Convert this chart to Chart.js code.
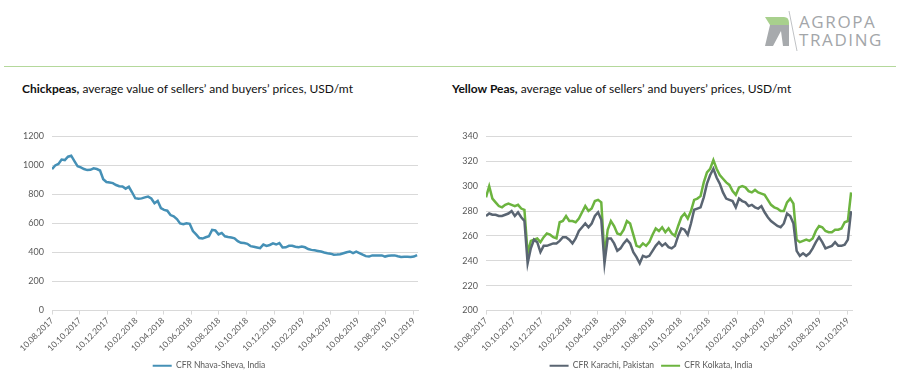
<!DOCTYPE html>
<html>
<head>
<meta charset="utf-8">
<script src="https://cdn.jsdelivr.net/npm/chart.js@4.4.0/dist/chart.umd.min.js"></script>
<style>
  body { margin: 0; width: 900px; height: 374px; background: #fff; position: relative; overflow: hidden; font-family: Lato, sans-serif; }
  .rule { position: absolute; left: 4px; top: 66px; width: 892px; height: 0; border-top: 1.5px solid #b4d89b; }
  .title { position: absolute; top: 81px; font-size: 12px; color: #111; white-space: nowrap; }
  .title b { font-weight: 700; }
  .box { position: absolute; top: 123px; width: 450px; height: 257px; }
  .logo { position: absolute; left: 762px; top: 6px; width: 130px; height: 48px; }
  .logo .t { position: absolute; left: 37px; font-size: 17px; color: #a3a6a9; letter-spacing: 1.6px; font-family: "Open Sans", sans-serif; }
</style>
</head>
<body>
<div class="logo">
  <svg width="36" height="48" style="position:absolute;left:0;top:0">
    <path d="M3 11 L22 11 Q27 11 27 17 L27 19 L8 19 Z" fill="#a8d08d"/>
    <path d="M8 19 L27 19 L27 40 L21 40 L19 25 L11 40 L3 40 Z" fill="#a7aaad"/>
    <line x1="27" y1="5" x2="35" y2="45" stroke="#b0b3b6" stroke-width="0.8"/>
  </svg>
  <div class="t" style="top:4px">AGROPA</div>
  <div class="t" style="top:22px">TRADING</div>
</div>
<div class="rule"></div>
<div class="title" style="left:22px"><b>Chickpeas,</b> average value of sellers’ and buyers’ prices, USD/mt</div>
<div class="title" style="left:452px"><b>Yellow Peas,</b> average value of sellers’ and buyers’ prices, USD/mt</div>
<div class="box" style="left:0"><canvas id="chickChart"></canvas></div>
<div class="box" style="left:450px"><canvas id="peasChart"></canvas></div>

<script>
// weekly observations
const weeks = [
  "2017-08-10","2017-08-17","2017-08-24","2017-08-31","2017-09-07","2017-09-14","2017-09-21","2017-09-28","2017-10-05","2017-10-12",
  "2017-10-19","2017-10-26","2017-11-02","2017-11-09","2017-11-16","2017-11-23","2017-11-30","2017-12-07","2017-12-14","2017-12-21",
  "2017-12-28","2018-01-04","2018-01-11","2018-01-18","2018-01-25","2018-02-01","2018-02-08","2018-02-15","2018-02-22","2018-03-01",
  "2018-03-08","2018-03-15","2018-03-22","2018-03-29","2018-04-05","2018-04-12","2018-04-19","2018-04-26","2018-05-03","2018-05-10",
  "2018-05-17","2018-05-24","2018-05-31","2018-06-07","2018-06-14","2018-06-21","2018-06-28","2018-07-05","2018-07-12","2018-07-19",
  "2018-07-26","2018-08-02","2018-08-09","2018-08-16","2018-08-23","2018-08-30","2018-09-06","2018-09-13","2018-09-20","2018-09-27",
  "2018-10-04","2018-10-11","2018-10-18","2018-10-25","2018-11-01","2018-11-08","2018-11-15","2018-11-22","2018-11-29","2018-12-06",
  "2018-12-13","2018-12-20","2018-12-27","2019-01-03","2019-01-10","2019-01-17","2019-01-24","2019-01-31","2019-02-07","2019-02-14",
  "2019-02-21","2019-02-28","2019-03-07","2019-03-14","2019-03-21","2019-03-28","2019-04-04","2019-04-11","2019-04-18","2019-04-25",
  "2019-05-02","2019-05-09","2019-05-16","2019-05-23","2019-05-30","2019-06-06","2019-06-13","2019-06-20","2019-06-27","2019-07-04",
  "2019-07-11","2019-07-18","2019-07-25","2019-08-01","2019-08-08","2019-08-15","2019-08-22","2019-08-29","2019-09-05","2019-09-12",
  "2019-09-19","2019-09-26","2019-10-03","2019-10-10","2019-10-17"
];

// CFR Nhava-Sheva, India
const chickpeas = [
  975,1000,1010,1040,1037,1060,1067,1030,994,987,
  975,968,970,980,975,965,905,886,882,878,
  865,857,855,840,853,815,774,770,773,780,
  785,772,740,755,706,694,688,658,650,630,
  600,595,602,598,548,525,500,496,505,512,
  556,552,525,535,512,507,503,498,478,467,
  465,460,444,440,435,430,455,446,452,463,
  455,465,435,436,446,447,440,437,441,436,
  424,418,415,411,407,400,395,392,385,386,
  388,395,402,407,396,406,396,385,375,372,
  380,380,380,380,372,378,380,380,374,369,
  370,370,369,372,382
];

// CFR Karachi, Pakistan
const karachi = [
  276,278,277,277,276,276,277,278,280,276,
  279,275,272,238,250,257,255,247,252,252,
  253,254,254,256,259,259,257,254,258,264,
  267,270,267,270,276,279,273,238,258,258,
  254,248,250,254,257,254,247,243,238,244,
  243,244,248,252,255,252,254,251,250,252,
  260,266,265,261,270,281,282,283,291,302,
  309,314,307,302,295,290,289,288,283,290,
  288,287,284,285,283,282,284,279,275,272,
  270,268,267,270,278,276,270,248,244,246,
  244,246,250,255,259,255,250,251,252,255,
  252,252,253,257,280
];

// CFR Kolkata, India
const kolkata = [
  291,300,290,287,284,283,285,286,285,284,
  285,282,281,246,256,257,258,255,259,262,
  261,259,258,271,272,276,272,272,271,274,
  279,284,280,282,288,289,287,244,265,272,
  268,262,261,265,272,270,261,252,251,254,
  252,255,261,266,264,267,263,266,262,260,
  268,275,278,274,280,289,290,292,303,311,
  314,321,314,309,306,303,301,296,293,299,
  300,299,296,295,297,295,294,293,289,285,
  283,282,280,280,287,290,286,257,255,256,
  257,256,258,264,268,267,264,263,263,265,
  265,266,271,272,295
];

const dateTicks = [
  "10.08.2017","10.10.2017","10.12.2017","10.02.2018","10.04.2018","10.06.2018","10.08.2018",
  "10.10.2018","10.12.2018","10.02.2019","10.04.2019","10.06.2019","10.08.2019","10.10.2019"
];
const chickTicks = [0, 200, 400, 600, 800, 1000, 1200];
const peasTicks = [200, 220, 240, 260, 280, 300, 320, 340];

// days since epoch
function isoDay(s) {
  const p = s.split("-");
  return Date.UTC(+p[0], +p[1] - 1, +p[2]) / 86400000;
}
function tickDay(s) {
  const p = s.split(".");
  return Date.UTC(+p[2], +p[1] - 1, +p[0]) / 86400000;
}
const xMin = isoDay(weeks[0]);
const xMax = isoDay("2019-10-19");

function series(values) {
  return values.map((v, i) => ({ x: isoDay(weeks[i]), y: v }));
}

const labelColor = "#595959";
const gridColor = "#d9d9d9";

function makeOptions(yTicks, axisWidth, rightPad) {
  return {
    responsive: true,
    maintainAspectRatio: false,
    animation: false,
    layout: { padding: { top: 8, right: rightPad, bottom: 0, left: 0 } },
    elements: { point: { radius: 0 }, line: { tension: 0 } },
    scales: {
      x: {
        type: "linear",
        min: xMin,
        max: xMax,
        afterBuildTicks: (s) => { s.ticks = dateTicks.map((t) => ({ value: tickDay(t) })); },
        ticks: {
          minRotation: 45,
          maxRotation: 45,
          autoSkip: false,
          padding: 1,
          color: labelColor,
          font: { family: "Lato", size: 8.5 },
          callback: (v, i) => dateTicks[i],
        },
        grid: { drawOnChartArea: false, drawTicks: true, tickLength: 4, color: gridColor },
        border: { display: true, color: gridColor },
      },
      y: {
        min: yTicks[0],
        max: yTicks[yTicks.length - 1],
        afterBuildTicks: (s) => { s.ticks = yTicks.map((v) => ({ value: v })); },
        afterFit: (s) => { s.width = axisWidth; },
        ticks: { color: labelColor, padding: 8, font: { family: "Lato", size: 9 }, callback: (v) => String(v) },
        grid: { color: gridColor, drawTicks: false },
        border: { display: false },
      },
    },
    plugins: {
      tooltip: { enabled: false },
      legend: {
        position: "bottom",
        labels: {
          boxWidth: 19,
          boxHeight: 2,
          padding: 7,
          color: labelColor,
          font: { family: "Lato", size: 8.5 },
          generateLabels: (chart) =>
            Chart.defaults.plugins.legend.labels.generateLabels(chart).map((l) => ({ ...l, fillStyle: l.strokeStyle, lineWidth: 0 })),
        },
      },
    },
  };
}

new Chart(document.getElementById("chickChart"), {
  type: "line",
  data: {
    datasets: [
      { label: "CFR Nhava-Sheva, India", data: series(chickpeas), borderColor: "#4590b6", backgroundColor: "#4590b6", borderWidth: 2.5 },
    ],
  },
  options: makeOptions(chickTicks, 52, 32),
});

new Chart(document.getElementById("peasChart"), {
  type: "line",
  data: {
    datasets: [
      { label: "CFR Karachi, Pakistan", data: series(karachi), borderColor: "#5a6572", backgroundColor: "#5a6572", borderWidth: 2.5 },
      { label: "CFR Kolkata, India", data: series(kolkata), borderColor: "#6cb43f", backgroundColor: "#6cb43f", borderWidth: 2.5 },
    ],
  },
  options: makeOptions(peasTicks, 36, 48),
});
</script>
</body>
</html>
